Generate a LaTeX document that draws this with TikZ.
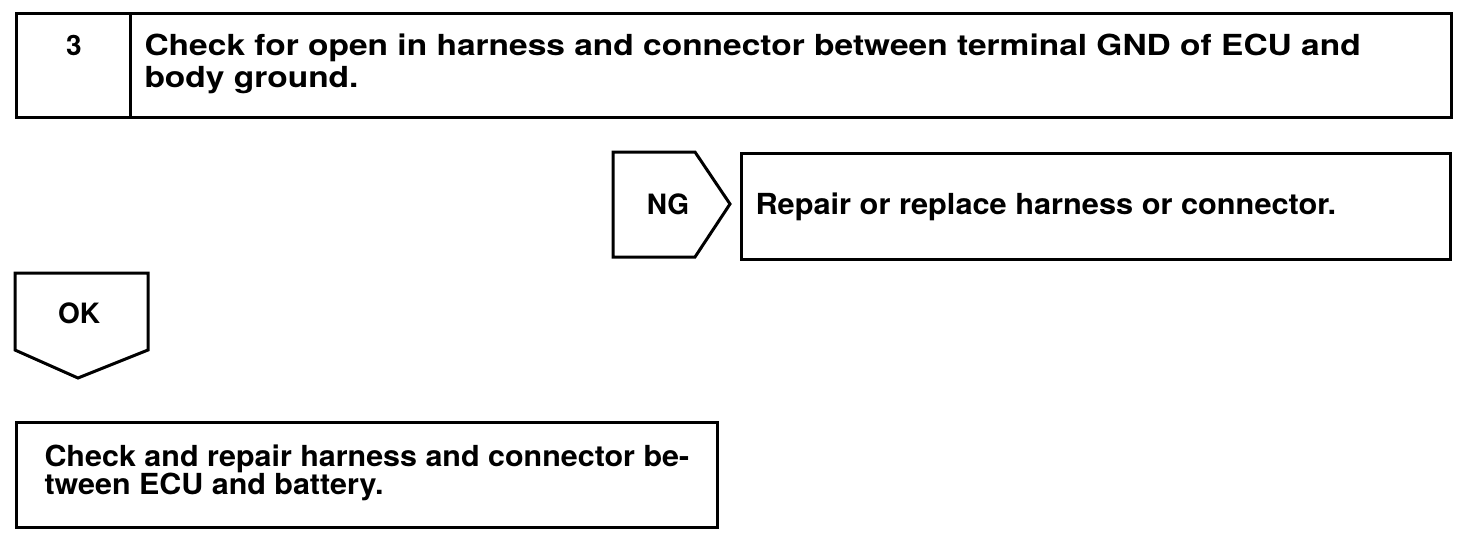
\documentclass[tikz,border=0pt]{standalone}
\usepackage{fontspec}
\setmainfont{TeX Gyre Heros}
\newfontfamily\titlefont[FakeStretch=1.155]{TeX Gyre Heros}
\newfontfamily\repfont[FakeStretch=1.06]{TeX Gyre Heros}
\newfontfamily\botfont[FakeStretch=1.05]{TeX Gyre Heros}
\lineskiplimit=-50pt
\begin{document}
\begin{tikzpicture}[x=1pt,y=-1pt,
  line width=3pt, line join=miter,
  box/.style={draw, line width=3pt, rectangle, inner sep=0pt, anchor=north west},
  txt/.style={inner sep=0pt, align=left},
  lbl/.style={inner sep=0pt, font=\fontsize{28}{30}\selectfont\bfseries}]
\useasboundingbox (0,0) rectangle (1472,536);
% header
\node[box, minimum width=114pt, minimum height=104pt] (numcell) at (15,12) {};
\node[box, minimum width=1321pt, minimum height=104pt] (textcell) at (129,12) {};
\node[lbl, anchor=base] (num) at (74,55) {3};
\node[txt, anchor=base west, font=\titlefont\fontsize{29}{32}\selectfont\bfseries] (title) at (143,87) {Check for open in harness and connector between terminal GND of ECU and\\body ground.};
% NG
\coordinate (ng1) at (613,152);
\coordinate (ng2) at (695,152);
\coordinate (ng3) at (730,204);
\coordinate (ng4) at (695,257);
\coordinate (ng5) at (613,257);
\draw (ng1) -- (ng2) -- (ng3) -- (ng4) -- (ng5) -- cycle;
\node[lbl] (ng) at (668,204) {NG};
\node[box, minimum width=709pt, minimum height=106pt] (repair) at (740,152) {};
\node[txt, anchor=base west, font=\repfont\fontsize{29}{32}\selectfont\bfseries] (repairtxt) at (754,214) {Repair or replace harness or connector.};
% OK
\coordinate (ok1) at (15,273);
\coordinate (ok2) at (148,273);
\coordinate (ok3) at (148,350);
\coordinate (ok4) at (78,378);
\coordinate (ok5) at (15,350);
\draw (ok1) -- (ok2) -- (ok3) -- (ok4) -- (ok5) -- cycle;
\node[lbl] (ok) at (79,313) {OK};
% bottom
\node[box, minimum width=701pt, minimum height=105pt] (final) at (15,421) {};
\node[txt, anchor=base west, font=\botfont\fontsize{29}{28}\selectfont\bfseries] (finaltxt) at (43,494) {Check and repair harness and connector be-\\tween ECU and battery.};
\end{tikzpicture}
\end{document}
